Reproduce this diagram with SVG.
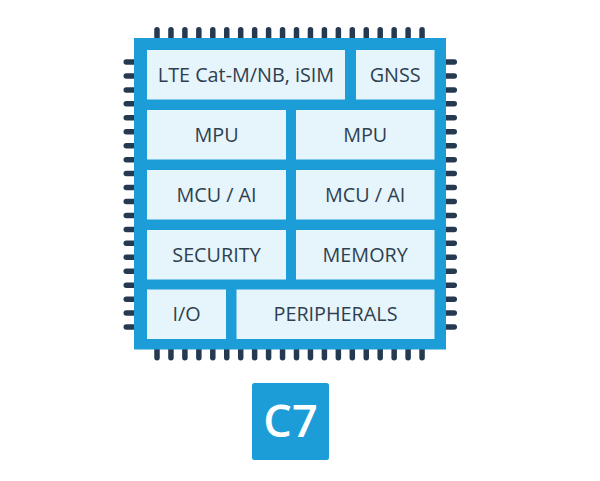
<svg xmlns="http://www.w3.org/2000/svg" width="600" height="481" viewBox="0 0 600 481">
<defs>
<style>
.pin{fill:#253a50}
.chip{fill:#1d9dd8}
.blk{fill:#e6f5fb}
.lbl{font-family:"Open Sans","Liberation Sans",sans-serif;font-size:19.8px;fill:#2e3f50;text-anchor:middle}
.badge-t{font-family:"Open Sans","Liberation Sans",sans-serif;font-size:45px;font-weight:600;fill:#ffffff;text-anchor:middle}
</style>
<rect id="pinV" width="5.5" height="16" rx="2.75"/>
<rect id="pinH" width="16" height="5.5" rx="2.75"/>
</defs>
<rect width="600" height="481" fill="#ffffff"/>
<g id="pins" class="pin">
<g id="pins-top">
<use href="#pinV" x="154.25" y="27"/><use href="#pinV" x="168.2" y="27"/><use href="#pinV" x="182.15" y="27"/><use href="#pinV" x="196.1" y="27"/><use href="#pinV" x="210.05" y="27"/><use href="#pinV" x="224" y="27"/><use href="#pinV" x="237.95" y="27"/><use href="#pinV" x="251.9" y="27"/><use href="#pinV" x="265.85" y="27"/><use href="#pinV" x="279.8" y="27"/><use href="#pinV" x="293.75" y="27"/><use href="#pinV" x="307.7" y="27"/><use href="#pinV" x="321.65" y="27"/><use href="#pinV" x="335.6" y="27"/><use href="#pinV" x="349.55" y="27"/><use href="#pinV" x="363.5" y="27"/><use href="#pinV" x="377.45" y="27"/><use href="#pinV" x="391.4" y="27"/><use href="#pinV" x="405.35" y="27"/><use href="#pinV" x="419.3" y="27"/>
</g>
<g id="pins-bottom">
<use href="#pinV" x="154.25" y="344.5"/><use href="#pinV" x="168.2" y="344.5"/><use href="#pinV" x="182.15" y="344.5"/><use href="#pinV" x="196.1" y="344.5"/><use href="#pinV" x="210.05" y="344.5"/><use href="#pinV" x="224" y="344.5"/><use href="#pinV" x="237.95" y="344.5"/><use href="#pinV" x="251.9" y="344.5"/><use href="#pinV" x="265.85" y="344.5"/><use href="#pinV" x="279.8" y="344.5"/><use href="#pinV" x="293.75" y="344.5"/><use href="#pinV" x="307.7" y="344.5"/><use href="#pinV" x="321.65" y="344.5"/><use href="#pinV" x="335.6" y="344.5"/><use href="#pinV" x="349.55" y="344.5"/><use href="#pinV" x="363.5" y="344.5"/><use href="#pinV" x="377.45" y="344.5"/><use href="#pinV" x="391.4" y="344.5"/><use href="#pinV" x="405.35" y="344.5"/><use href="#pinV" x="419.3" y="344.5"/>
</g>
<g id="pins-left">
<use href="#pinH" x="123.5" y="59.25"/><use href="#pinH" x="123.5" y="73.2"/><use href="#pinH" x="123.5" y="87.15"/><use href="#pinH" x="123.5" y="101.1"/><use href="#pinH" x="123.5" y="115.05"/><use href="#pinH" x="123.5" y="129"/><use href="#pinH" x="123.5" y="142.95"/><use href="#pinH" x="123.5" y="156.9"/><use href="#pinH" x="123.5" y="170.85"/><use href="#pinH" x="123.5" y="184.8"/><use href="#pinH" x="123.5" y="198.75"/><use href="#pinH" x="123.5" y="212.7"/><use href="#pinH" x="123.5" y="226.65"/><use href="#pinH" x="123.5" y="240.6"/><use href="#pinH" x="123.5" y="254.55"/><use href="#pinH" x="123.5" y="268.5"/><use href="#pinH" x="123.5" y="282.45"/><use href="#pinH" x="123.5" y="296.4"/><use href="#pinH" x="123.5" y="310.35"/><use href="#pinH" x="123.5" y="324.3"/>
</g>
<g id="pins-right">
<use href="#pinH" x="441" y="59.25"/><use href="#pinH" x="441" y="73.2"/><use href="#pinH" x="441" y="87.15"/><use href="#pinH" x="441" y="101.1"/><use href="#pinH" x="441" y="115.05"/><use href="#pinH" x="441" y="129"/><use href="#pinH" x="441" y="142.95"/><use href="#pinH" x="441" y="156.9"/><use href="#pinH" x="441" y="170.85"/><use href="#pinH" x="441" y="184.8"/><use href="#pinH" x="441" y="198.75"/><use href="#pinH" x="441" y="212.7"/><use href="#pinH" x="441" y="226.65"/><use href="#pinH" x="441" y="240.6"/><use href="#pinH" x="441" y="254.55"/><use href="#pinH" x="441" y="268.5"/><use href="#pinH" x="441" y="282.45"/><use href="#pinH" x="441" y="296.4"/><use href="#pinH" x="441" y="310.35"/><use href="#pinH" x="441" y="324.3"/>
</g>
</g>
<g id="chip">
<rect class="chip" x="134" y="38" width="312" height="311.5"/>
</g>
<g id="lte"><rect class="blk" x="147" y="50" width="198" height="49.5"/><text class="lbl" x="246" y="82">LTE Cat-M/NB, iSIM</text></g>
<g id="gnss"><rect class="blk" x="356" y="50" width="78.5" height="49.5"/><text class="lbl" x="395.2" y="82">GNSS</text></g>
<g id="mpu1"><rect class="blk" x="147" y="110" width="139" height="49.5"/><text class="lbl" x="216.5" y="142">MPU</text></g>
<g id="mpu2"><rect class="blk" x="296" y="110" width="138.5" height="49.5"/><text class="lbl" x="365.2" y="142">MPU</text></g>
<g id="mcu1"><rect class="blk" x="147" y="170" width="139" height="49.5"/><text class="lbl" x="216.5" y="202">MCU / AI</text></g>
<g id="mcu2"><rect class="blk" x="296" y="170" width="138.5" height="49.5"/><text class="lbl" x="365.2" y="202">MCU / AI</text></g>
<g id="security"><rect class="blk" x="147" y="230" width="139" height="49.5"/><text class="lbl" x="216.5" y="262">SECURITY</text></g>
<g id="memory"><rect class="blk" x="296" y="230" width="138.5" height="49.5"/><text class="lbl" x="365.2" y="262">MEMORY</text></g>
<g id="io"><rect class="blk" x="147" y="289.5" width="79" height="49.5"/><text class="lbl" x="186.5" y="320.5">I/O</text></g>
<g id="peripherals"><rect class="blk" x="236.5" y="289.5" width="198" height="49.5"/><text class="lbl" x="335.5" y="320.5">PERIPHERALS</text></g>
<g id="connectors"></g>
<g id="badge"><rect class="chip" x="252" y="383" width="77" height="77" rx="2.5"/><text class="badge-t" x="290.5" y="437">C7</text></g>
</svg>
